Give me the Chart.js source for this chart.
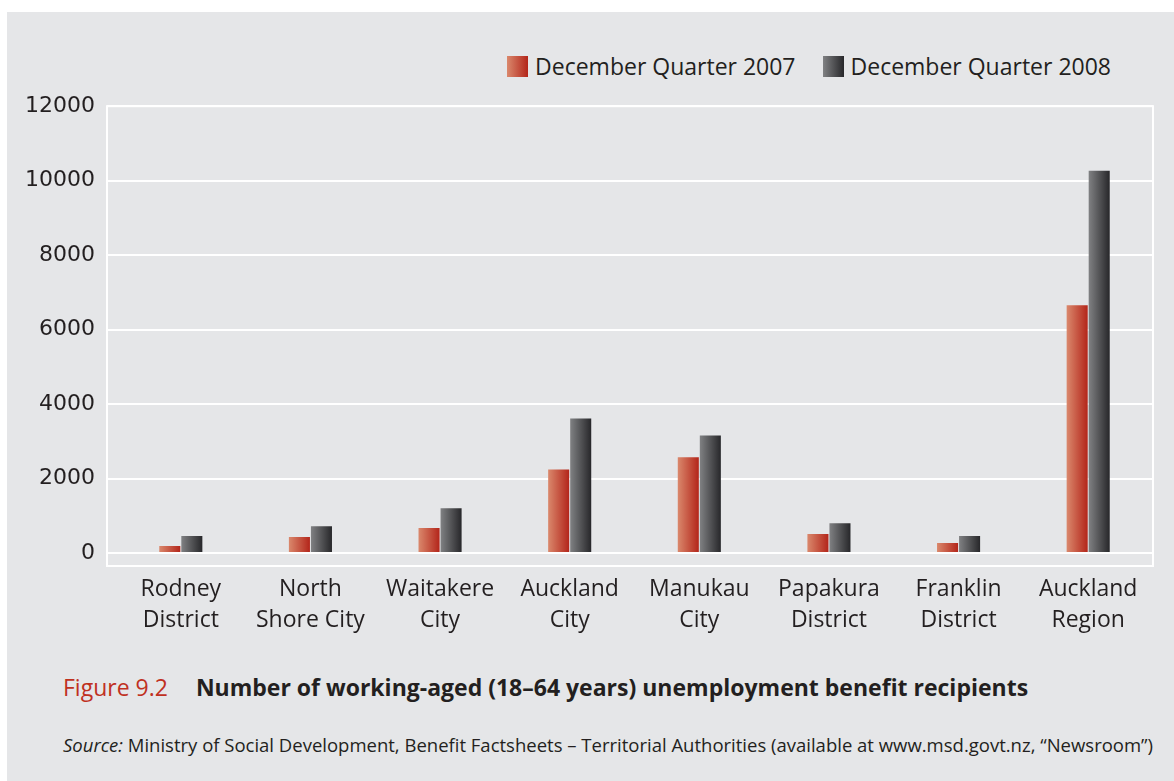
<!DOCTYPE html>
<html>
<head>
<meta charset="utf-8">
<script src="https://cdn.jsdelivr.net/npm/chart.js@4"></script>
<style>
    body { margin: 0; background: #fff; width: 1174px; height: 781px; overflow: hidden; font-family: "Open Sans", sans-serif; color: #231f20; }
    #panel { position: absolute; left: 7px; top: 12px; right: 0; bottom: 0; background: #e5e6e8; overflow: hidden; }
    #chartBox { position: absolute; left: 0; top: 81px; width: 1174px; height: 569px; }
    #legend { position: absolute; top: 50px; right: 63px; display: flex; font-size: 23px; white-space: nowrap; }
    #legend .item { display: flex; align-items: center; margin-left: 27px; }
    #legend .box { width: 21px; height: 21px; margin-right: 7px; }
    #caption { position: absolute; left: 63px; top: 671px; font-size: 23px; font-weight: 700; white-space: nowrap; }
    #caption .fig { color: #c0311f; font-weight: 400; margin-right: 28px; }
    #source { position: absolute; left: 63px; top: 732px; font-size: 18.5px; white-space: nowrap; }
</style>
</head>
<body>
<div id="panel"></div>
<div id="legend"></div>
<div id="chartBox"><canvas id="benefitChart"></canvas></div>
<div id="caption"><span class="fig">Figure 9.2</span>Number of working-aged (18–64 years) unemployment benefit recipients</div>
<div id="source"><i>Source:</i> Ministry of Social Development, Benefit Factsheets – Territorial Authorities (available at www.msd.govt.nz, “Newsroom”)</div>

<script>
// Données
const categories = [
    ['Rodney', 'District'],
    ['North', 'Shore City'],
    ['Waitakere', 'City'],
    ['Auckland', 'City'],
    ['Manukau', 'City'],
    ['Papakura', 'District'],
    ['Franklin', 'District'],
    ['Auckland', 'Region']
];
const seriesLabels = ['December Quarter 2007', 'December Quarter 2008'];
const values2007 = [190, 430, 670, 2245, 2570, 510, 270, 6655];
const values2008 = [455, 720, 1200, 3610, 3155, 800, 455, 10265];
const yTicks = [0, 2000, 4000, 6000, 8000, 10000, 12000];

// dégradés gauche -> droite
const gradientStops = [
    ['#da886c', '#b3251a'],
    ['#808183', '#27272a']
];

// --------------------------------------------------------------------------

// Légende HTML
const legend = document.getElementById('legend');
seriesLabels.forEach((label, i) => {
    const item = document.createElement('div');
    item.className = 'item';
    item.innerHTML = `<span class="box" style="background:linear-gradient(to right, ${gradientStops[i][0]}, ${gradientStops[i][1]})"></span>${label}`;
    legend.appendChild(item);
});

// --------------------------------------------------------------------------

// Remplissage des barres en dégradé horizontal (options copiées, elles sont partagées)
const barGradient = {
    id: 'barGradient',
    beforeDatasetsDraw(chart) {
        const ctx = chart.ctx;
        chart.data.datasets.forEach((ds, i) => {
            chart.getDatasetMeta(i).data.forEach(el => {
                const { x, width } = el.getProps(['x', 'width'], true);
                const g = ctx.createLinearGradient(x - width / 2, 0, x + width / 2, 0);
                g.addColorStop(0, gradientStops[i][0]);
                g.addColorStop(1, gradientStops[i][1]);
                el.options = Object.assign({}, el.options, { backgroundColor: g });
            });
        });
    }
};

// Cadre blanc de la zone de tracé
const plotFrame = {
    id: 'plotFrame',
    beforeDatasetsDraw(chart) {
        const { ctx, chartArea: a } = chart;
        ctx.save();
        ctx.strokeStyle = '#ffffff';
        ctx.lineWidth = 2;
        ctx.strokeRect(a.left - 9, a.top, a.right - a.left + 9, a.bottom - a.top);
        ctx.restore();
    }
};

// --------------------------------------------------------------------------

const ctx = document.getElementById('benefitChart').getContext('2d');
new Chart(ctx, {
    type: 'bar',
    data: {
        labels: categories,
        datasets: [
            { label: seriesLabels[0], data: values2007, backgroundColor: gradientStops[0][1] },
            { label: seriesLabels[1], data: values2008, backgroundColor: gradientStops[1][1] }
        ]
    },
    options: {
        responsive: true,
        maintainAspectRatio: false,
        animation: false,
        layout: { padding: { top: 9, right: 21, left: 0, bottom: 0 } },
        datasets: { bar: { categoryPercentage: 0.34, barPercentage: 0.955 } },
        plugins: { legend: { display: false }, tooltip: { enabled: false } },
        scales: {
            x: {
                grid: { display: false },
                border: { display: false },
                ticks: {
                    color: '#231f20',
                    font: { family: 'Open Sans', size: 23, lineHeight: 1.35 },
                    padding: 0,
                    maxRotation: 0,
                    autoSkip: false
                },
                afterFit: scale => { scale.height = 84; }
            },
            y: {
                min: -350,
                max: 12000,
                afterBuildTicks: scale => { scale.ticks = yTicks.map(v => ({ value: v })); },
                grid: { color: '#ffffff', lineWidth: 2, drawTicks: true, tickLength: 9, tickColor: '#ffffff' },
                border: { display: false },
                ticks: {
                    color: '#231f20',
                    font: { family: 'DejaVu Sans', size: 22 },
                    padding: 12,
                    callback: v => String(v)
                },
                afterFit: scale => { scale.width = 116; }
            }
        }
    },
    plugins: [barGradient, plotFrame]
});
</script>
</body>
</html>
